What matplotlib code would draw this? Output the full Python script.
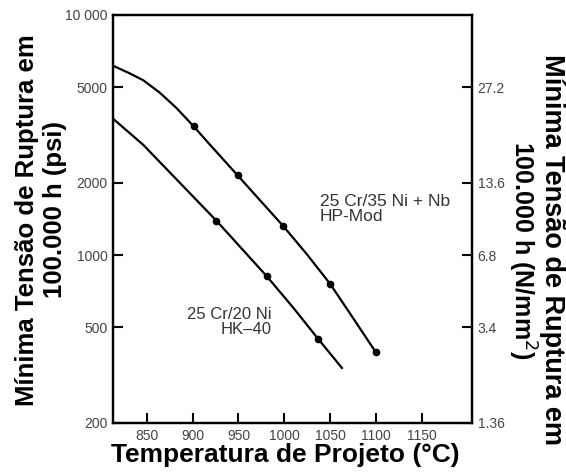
import matplotlib
matplotlib.use("Agg")
import matplotlib.pyplot as plt
from matplotlib import font_manager
from matplotlib.ticker import NullLocator

# HP-Mod (25 Cr/35 Ni + Nb): marked points and points
hp_mark_T = [901, 949, 999, 1050, 1100]
hp_mark_S = [3440, 2150, 1320, 760, 394]
hp_line_T = [813, 831, 846, 864, 882, 901, 919, 949, 999, 1025, 1050, 1075, 1100]
hp_line_S = [6150, 5720, 5350, 4750, 4110, 3440, 2880, 2150, 1320, 1005, 760, 548, 394]

# HK-40 (25 Cr/20 Ni)
hk_mark_T = [926, 981, 1037]
hk_mark_S = [1390, 816, 448]
hk_line_T = [813, 846, 926, 981, 1010, 1037, 1063]
hk_line_S = [3700, 2880, 1390, 816, 603, 448, 339]

x_ticks = [850, 900, 950, 1000, 1050, 1100, 1150]
psi_ticks = [200, 500, 1000, 2000, 5000, 10000]
psi_labels = ["200", "500", "1000", "2000", "5000", "10 000"]
si_ticks = [200, 500, 1000, 2000, 5000]
si_labels = ["1.36", "3.4", "6.8", "13.6", "27.2"]

names = {f.name for f in font_manager.fontManager.ttflist}
if "Liberation Sans Narrow" in names:
    label_font, k = "Liberation Sans Narrow", 1.12
else:
    label_font, k = "Liberation Sans", 1.0
tick_font = "Liberation Sans"
grey = "#444444"

fig = plt.figure(figsize=(5.66, 4.76), dpi=100)
ax = fig.add_axes([113/566, 53/476, (472-113)/566, (423-15)/476])
ax.set_yscale("log")
ax.set_xlim(813, 1205)
ax.set_ylim(200, 10000)

ax.plot(hp_line_T, hp_line_S, color="black", lw=1.6)
ax.plot(hp_mark_T, hp_mark_S, "o", color="black", ms=4.5)
ax.plot(hk_line_T, hk_line_S, color="black", lw=1.6)
ax.plot(hk_mark_T, hk_mark_S, "o", color="black", ms=4.5)

ax.set_xticks(x_ticks)
ax.set_xticklabels([str(t) for t in x_ticks], fontname=tick_font, fontsize=10, color=grey)
ax.set_yticks(psi_ticks)
ax.set_yticklabels(psi_labels, fontname=tick_font, fontsize=10, color=grey)
ax.yaxis.set_minor_locator(NullLocator())
ax.tick_params(direction="in", length=7, width=1.5, pad=4)

ax2 = ax.twinx()
ax2.set_yscale("log")
ax2.set_ylim(200, 10000)
ax2.set_yticks(si_ticks)
ax2.set_yticklabels(si_labels, fontname=tick_font, fontsize=10, color=grey)
ax2.yaxis.set_minor_locator(NullLocator())
ax2.tick_params(direction="in", length=7, width=1.5, pad=4)

for a in (ax, ax2):
    for s in a.spines.values():
        s.set_linewidth(1.6)

ax.text(1039, 1800, "25 Cr/35 Ni + Nb\nHP-Mod", fontname=tick_font, fontsize=12.5,
        color="#333333", va="top", ha="left", linespacing=1.0)
ax.text(986, 610, "25 Cr/20 Ni\nHK–40", fontname=tick_font, fontsize=12,
        color="#333333", va="top", ha="right", multialignment="right", linespacing=1.0)

lab = dict(family=label_font, fontweight="bold", color="black", ha="center", va="center")
fig.text(285/566, 1 - 455/476, "Temperatura de Projeto (°C)", fontsize=19*k, **lab)
fig.text(27/566, 1 - 220/476, "Mínima Tensão de Ruptura em", rotation=90, fontsize=18.5*k, **lab)
fig.text(55/566, 1 - 210/476, "100.000 h (psi)", rotation=90, fontsize=18.5*k, **lab)
fig.text(552/566, 1 - 250/476, "Mínima Tensão de Ruptura em", rotation=-90, fontsize=19.5*k, **lab)
fig.text(522/566, 1 - 250/476, "100.000 h (N/mm$^2$)", rotation=-90, fontsize=18*k, **lab)

fig.savefig("out.png", dpi=100)
